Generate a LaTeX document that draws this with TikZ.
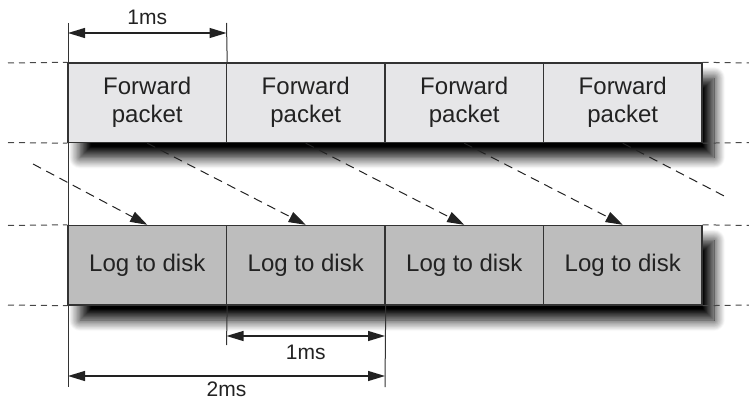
\documentclass[tikz,border=0pt]{standalone}
\usepackage{fontspec}
\setmainfont{Liberation Sans}
\usetikzlibrary{arrows.meta,shadows.blur}

\definecolor{edge}{HTML}{333333}
\definecolor{ink}{HTML}{222222}
\definecolor{fwdfill}{HTML}{E6E6E8}
\definecolor{logfill}{HTML}{BDBDBD}

\tikzset{
  slot/.style={draw=edge, line width=1.4pt, minimum width=158.5pt, minimum height=79.5pt,
    inner sep=0pt, align=center, text=ink, font=\fontsize{24}{28}\selectfont},
  fwd/.style={slot, fill=fwdfill},
  logbox/.style={slot, fill=logfill},
  rowshadow/.style={blur shadow={shadow xshift=12pt, shadow yshift=-15pt,
    shadow blur radius=11pt, shadow blur steps=14, shadow opacity=100}},
  guide/.style={draw=edge!90, line width=1pt, dash pattern=on 6pt off 5pt},
  handoff/.style={draw=ink, line width=1pt, dash pattern=on 9pt off 6pt,
    -{Triangle[length=17pt,width=11pt]}},
  tick/.style={draw=edge, line width=1pt},
  span/.style={draw=ink, line width=1.2pt,
    {Triangle[length=17pt,width=10pt]}-{Triangle[length=17pt,width=10pt]}},
  dimtext/.style={text=ink, font=\fontsize{21}{24}\selectfont, inner sep=0pt, anchor=base}
}

\begin{document}
\begin{tikzpicture}[x=1pt,y=-1pt]
\useasboundingbox (0,0) rectangle (749,401);

% shadows behind both rows
\path[rowshadow, fill=fwdfill] (68,63) rectangle (702,142.5);
\path[rowshadow, fill=logfill] (68,225.5) rectangle (702,305);

% forwarding row
\node[fwd] (f1) at (147.25,102.75) {Forward\\packet};
\node[fwd] (f2) at (305.75,102.75) {Forward\\packet};
\node[fwd] (f3) at (464.25,102.75) {Forward\\packet};
\node[fwd] (f4) at (622.75,102.75) {Forward\\packet};

% logging row
\node[logbox] (l1) at (147.25,265.25) {Log to disk};
\node[logbox] (l2) at (305.75,265.25) {Log to disk};
\node[logbox] (l3) at (464.25,265.25) {Log to disk};
\node[logbox] (l4) at (622.75,265.25) {Log to disk};

% dashed row guides
\coordinate (gl1) at (8,63);    \coordinate (gr1) at (749,63);
\coordinate (gl2) at (8,142.5); \coordinate (gr2) at (749,142.5);
\coordinate (gl3) at (8,225.5); \coordinate (gr3) at (749,225.5);
\coordinate (gl4) at (8,305);   \coordinate (gr4) at (749,305);
\draw[guide] (gl1) -- (f1.north west) (f4.north east) -- (gr1);
\draw[guide] (gl2) -- (f1.south west) (f4.south east) -- (gr2);
\draw[guide] (gl3) -- (l1.north west) (l4.north east) -- (gr3);
\draw[guide] (gl4) -- (l1.south west) (l4.south east) -- (gr4);

% each packet is logged one slot later
\coordinate (in0) at (33,164);
\coordinate (out4) at (728,198);
\draw[handoff] (in0) -- (l1.north);
\draw[handoff] (f1.south) -- (l2.north);
\draw[handoff] (f2.south) -- (l3.north);
\draw[handoff] (f3.south) -- (l4.north);
\draw[handoff, -] (f4.south) -- (out4);

% extension lines
\coordinate (t0) at (68,23);
\coordinate (t1) at (226.5,23);
\coordinate (b0) at (68,387);
\coordinate (b1) at (226.5,345);
\coordinate (b2) at (385,387);
\draw[tick] (t0) -- (b0);
\draw[tick] (t1) -- (f1.north east);
\draw[tick] (l1.south east) -- (b1);
\draw[tick] (l2.south east) -- (b2);

% durations
\coordinate (a0) at (68,33);    \coordinate (a1) at (226.5,33);
\coordinate (c1) at (226.5,336);\coordinate (c2) at (385,336);
\coordinate (d0) at (68,376);   \coordinate (d2) at (385,376);
\draw[span] (a0) -- (a1);
\draw[span] (c1) -- (c2);
\draw[span] (d0) -- (d2);
\node[dimtext] (m1) at (147.25,25) {1ms};
\node[dimtext] (m2) at (305.75,359) {1ms};
\node[dimtext] (m3) at (226.5,396.5) {2ms};
\end{tikzpicture}
\end{document}
